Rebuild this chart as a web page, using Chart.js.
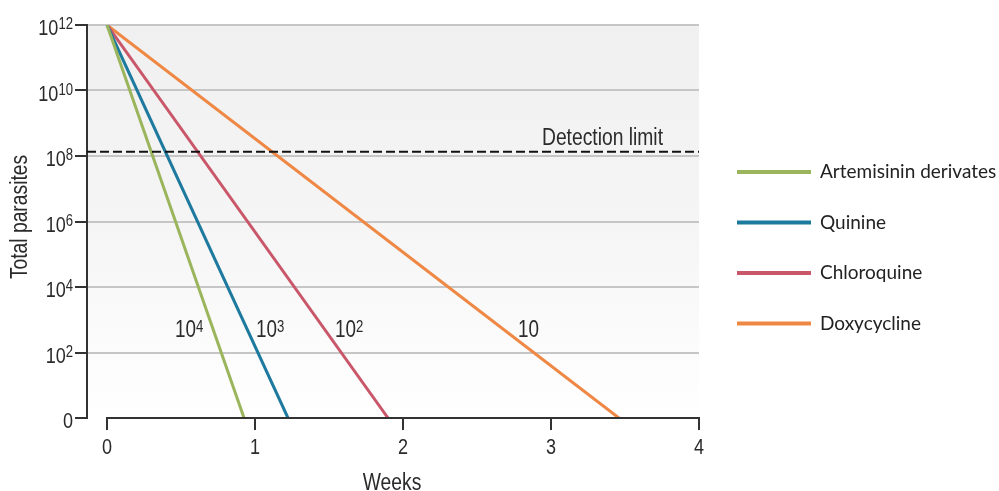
<!DOCTYPE html>
<html>
<head>
<meta charset="utf-8">
<script src="https://cdn.jsdelivr.net/npm/chart.js@4.4.1/dist/chart.umd.min.js"></script>
<style>
  html, body { margin: 0; padding: 0; background: #fff; }
  #wrap { width: 999px; height: 491px; }
</style>
</head>
<body>
<div id="wrap"><canvas id="myChart" width="999" height="491"></canvas></div>
<script>
// weeks on x, log10(total parasites) on y
const drugs = ["Artemisinin derivates", "Quinine", "Chloroquine", "Doxycycline"];
const colors = ["#9bb55c", "#1d7a9e", "#c95769", "#ee8844"];
const startWeek = [0, 0, 0, 0];
const startLog = [12, 12, 12, 12];
const endWeek = [0.926, 1.223, 1.899, 3.459];
const endLog = [0, 0, 0, 0];
const killRateExp = [4, 3, 2, 1]; // parasite reduction per cycle, 10^n
const xTicks = [0, 1, 2, 3, 4];
const yTicks = [0, 2, 4, 6, 8, 10, 12]; // exponents, 0 is shown as "0"
const detectionLimit = 8.13;

// where the kill-rate labels start (weeks, log10 baseline)
const rateLabelAt = [[0.459, 2.47], [1.007, 2.47], [1.541, 2.47], [2.777, 2.47]];

const FONT = "'Liberation Sans', Arial, sans-serif";
const SQ = 0.82; // the original uses a condensed face

// draw "base" + raised "sup", horizontally condensed
function supText(ctx, base, sup, x, baseline, size, supSize, raise, align) {
  ctx.font = size + "px " + FONT;
  const wb = ctx.measureText(base).width * SQ;
  ctx.font = supSize + "px " + FONT;
  const ws = sup ? ctx.measureText(sup).width * SQ : 0;
  const w = wb + ws;
  let x0 = x;
  if (align === "right") x0 = x - w;
  if (align === "center") x0 = x - w / 2;
  ctx.save();
  ctx.textAlign = "left";
  ctx.textBaseline = "alphabetic";
  ctx.translate(x0, baseline);
  ctx.scale(SQ, 1);
  ctx.font = size + "px " + FONT;
  ctx.fillText(base, 0, 0);
  if (sup) {
    ctx.font = supSize + "px " + FONT;
    ctx.fillText(sup, wb / SQ, -raise);
  }
  ctx.restore();
}

const extras = {
  id: "extras",
  beforeDraw(chart) {
    const { ctx, chartArea: a } = chart;
    ctx.save();
    // grey plot background fading to white
    const g = ctx.createLinearGradient(0, a.top, 0, a.bottom);
    g.addColorStop(0, "#f0f0f0");
    g.addColorStop(0.5, "#f5f5f5");
    g.addColorStop(1, "#ffffff");
    ctx.fillStyle = g;
    ctx.fillRect(a.left, a.top, a.right - a.left, a.bottom - a.top);
    ctx.restore();
  },
  afterDraw(chart) {
    const { ctx, chartArea: a, scales: { x, y } } = chart;
    ctx.save();
    // x axis line only from 0 to 4
    ctx.strokeStyle = "#333";
    ctx.lineWidth = 2;
    ctx.beginPath();
    ctx.moveTo(x.getPixelForValue(xTicks[0]) - 1, a.bottom);
    ctx.lineTo(x.getPixelForValue(xTicks[xTicks.length - 1]) + 1, a.bottom);
    ctx.stroke();

    // detection limit
    const dy = y.getPixelForValue(detectionLimit);
    ctx.strokeStyle = "#111";
    ctx.setLineDash([9, 4]);
    ctx.beginPath();
    ctx.moveTo(a.left, dy);
    ctx.lineTo(a.right, dy);
    ctx.stroke();
    ctx.setLineDash([]);

    ctx.fillStyle = "#2b2b2b";
    supText(ctx, "Detection limit", "", x.getPixelForValue(2.939), y.getPixelForValue(8.34), 23.5, 0, 0, "left");

    killRateExp.forEach((n, i) => {
      supText(ctx, "10", n === 1 ? "" : String(n),
        x.getPixelForValue(rateLabelAt[i][0]), y.getPixelForValue(rateLabelAt[i][1]), 23, 16, 5, "left");
    });

    // tick labels
    yTicks.forEach(v => {
      const py = y.getPixelForValue(v);
      if (v === 0) supText(ctx, "0", "", 73, py + 10, 22, 0, 0, "right");
      else supText(ctx, "10", String(v), 73, py + 10, 22, 16, 6, "right");
    });
    xTicks.forEach(v => {
      supText(ctx, String(v), "", x.getPixelForValue(v), a.bottom + 36, 22, 0, 0, "center");
    });

    // axis titles
    supText(ctx, "Weeks", "", 392, 490, 23.5, 0, 0, "center");
    ctx.save();
    ctx.translate(27, 217);
    ctx.rotate(-Math.PI / 2);
    supText(ctx, "Total parasites", "", 0, 0, 23.5, 0, 0, "center");
    ctx.restore();

    // legend
    ctx.font = "19px Lato, 'Open Sans', sans-serif";
    ctx.textAlign = "left";
    ctx.textBaseline = "middle";
    chart.data.datasets.forEach((ds, i) => {
      const ly = 172 + i * 50.5;
      ctx.strokeStyle = ds.borderColor;
      ctx.lineWidth = 4;
      ctx.beginPath();
      ctx.moveTo(737, ly);
      ctx.lineTo(811, ly);
      ctx.stroke();
      ctx.fillStyle = "#222";
      ctx.fillText(ds.label, 820, ly);
    });
    ctx.restore();
  }
};

new Chart(document.getElementById("myChart"), {
  type: "line",
  data: {
    datasets: drugs.map((name, i) => ({
      label: name,
      data: [
        { x: startWeek[i], y: startLog[i] },
        { x: endWeek[i], y: endLog[i] }
      ],
      borderColor: colors[i],
      borderWidth: 3,
      pointRadius: 0,
      tension: 0
    }))
  },
  options: {
    responsive: false,
    animation: false,
    layout: { padding: { left: 0, right: 300, top: 25, bottom: 0 } },
    plugins: { legend: { display: false }, tooltip: { enabled: false } },
    scales: {
      x: {
        type: "linear",
        min: -0.1351,
        max: 4,
        afterBuildTicks: s => { s.ticks = xTicks.map(v => ({ value: v })); },
        afterFit: s => { s.height = 73; },
        border: { display: false },
        grid: { drawOnChartArea: false, drawTicks: true, tickLength: 12, tickColor: "#333", lineWidth: 2 },
        ticks: { display: false }
      },
      y: {
        type: "linear",
        min: 0,
        max: 12,
        afterBuildTicks: s => { s.ticks = yTicks.map(v => ({ value: v })); },
        afterFit: s => { s.width = 87; },
        border: { display: true, color: "#333", width: 2 },
        grid: {
          color: c => (c.tick && c.tick.value === 0 ? "rgba(0,0,0,0)" : "#c6c6c6"),
          lineWidth: 2,
          tickLength: 12,
          tickColor: "#333"
        },
        ticks: { display: false }
      }
    }
  },
  plugins: [extras]
});
</script>
</body>
</html>
